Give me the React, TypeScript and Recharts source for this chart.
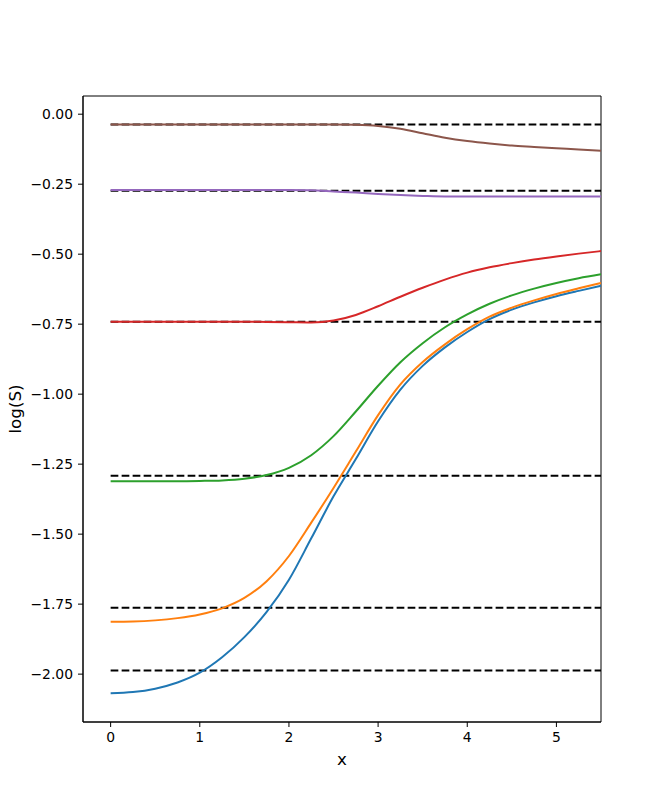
import { LineChart, Line, XAxis, YAxis, ReferenceLine, ReferenceArea } from "recharts";

// sample points along x
const xs = [0, 0.25, 0.5, 0.75, 1, 1.25, 1.5, 1.75, 2, 2.25, 2.5, 2.75, 3, 3.25, 3.5, 3.75, 4, 4.25, 4.5, 4.75, 5, 5.25, 5.5];

const blue = [-2.068, -2.064, -2.052, -2.03, -1.995, -1.94, -1.868, -1.778, -1.663, -1.515, -1.365, -1.232, -1.097, -0.984, -0.899, -0.833, -0.778, -0.732, -0.698, -0.672, -0.65, -0.631, -0.613];
const orange = [-1.813, -1.812, -1.808, -1.8, -1.787, -1.765, -1.728, -1.668, -1.578, -1.459, -1.335, -1.205, -1.075, -0.965, -0.885, -0.822, -0.768, -0.723, -0.691, -0.665, -0.642, -0.622, -0.603];
const green = [-1.311, -1.311, -1.311, -1.311, -1.31, -1.308, -1.302, -1.289, -1.263, -1.218, -1.15, -1.062, -0.97, -0.886, -0.818, -0.761, -0.715, -0.677, -0.647, -0.623, -0.603, -0.586, -0.572];
const red = [-0.741, -0.741, -0.741, -0.741, -0.741, -0.741, -0.741, -0.742, -0.743, -0.744, -0.737, -0.717, -0.686, -0.652, -0.62, -0.591, -0.566, -0.547, -0.532, -0.519, -0.508, -0.498, -0.489];
const purple = [-0.271, -0.271, -0.271, -0.271, -0.271, -0.271, -0.271, -0.271, -0.271, -0.272, -0.276, -0.28, -0.285, -0.289, -0.292, -0.294, -0.294, -0.294, -0.294, -0.294, -0.294, -0.294, -0.294];
const brown = [-0.037, -0.037, -0.037, -0.037, -0.037, -0.037, -0.037, -0.037, -0.037, -0.037, -0.037, -0.038, -0.042, -0.052, -0.068, -0.084, -0.096, -0.105, -0.112, -0.117, -0.122, -0.126, -0.131];

// dashed horizontal levels
const levels = [-0.037, -0.273, -0.741, -1.291, -1.763, -1.987];

const xTicks = [0, 1, 2, 3, 4, 5];
const yTicks = [0, -0.25, -0.5, -0.75, -1, -1.25, -1.5, -1.75, -2];

const series = [
  { key: "blue", values: blue, color: "#1f77b4" },
  { key: "orange", values: orange, color: "#ff7f0e" },
  { key: "green", values: green, color: "#2ca02c" },
  { key: "red", values: red, color: "#d62728" },
  { key: "purple", values: purple, color: "#9467bd" },
  { key: "brown", values: brown, color: "#8c564b" },
];

const data = xs.map((x, i) => {
  const row: Record<string, number> = { x };
  series.forEach((s) => { row[s.key] = s.values[i]; });
  return row;
});

const X_DOMAIN: [number, number] = [-0.31, 5.5];
const Y_DOMAIN: [number, number] = [-2.171, 0.065];
const FONT = "DejaVu Sans";
const tick = { fill: "#000", fontSize: 13.9, fontFamily: FONT };
const fmt = (v: number) => v.toFixed(2).replace("-", "\u2212");

function YLabel({ viewBox }: any) {
  const cx = 15;
  const cy = viewBox.y + viewBox.height / 2;
  return (
    <text x={cx} y={cy} transform={`rotate(-90 ${cx} ${cy})`} textAnchor="middle" dominantBaseline="central" fontSize={16.7} fontFamily={FONT} fill="#000">
      log(S)
    </text>
  );
}

export default function App() {
  return (
    <div style={{ position: "absolute", left: 0, top: 0, width: 667, height: 811, background: "#fff" }}>
      <LineChart width={667} height={811} data={data} margin={{ top: 96, right: 66, left: 0, bottom: 0 }}>
        <XAxis dataKey="x" type="number" domain={X_DOMAIN} allowDataOverflow ticks={xTicks}
          tick={tick} tickSize={5} tickMargin={5} height={89}
          axisLine={{ stroke: "#000" }} tickLine={{ stroke: "#000" }}
          label={{ value: "x", position: "insideTop", offset: 31, fontSize: 16.7, fontFamily: FONT, fill: "#000" }} />
        <YAxis type="number" domain={Y_DOMAIN} allowDataOverflow ticks={yTicks} tickFormatter={fmt}
          tick={tick} tickSize={5} tickMargin={5} width={83}
          axisLine={{ stroke: "#000" }} tickLine={{ stroke: "#000" }}
          label={<YLabel />} />
        {/* plot frame (top/right spines) */}
        <ReferenceArea x1={X_DOMAIN[0]} x2={X_DOMAIN[1]} y1={Y_DOMAIN[0]} y2={Y_DOMAIN[1]} fill="none" fillOpacity={0} stroke="#000" strokeWidth={1} ifOverflow="visible" />
        {levels.map((v) => (
          <ReferenceLine key={v} segment={[{ x: 0, y: v }, { x: 5.5, y: v }]} stroke="#000" strokeWidth={2} strokeDasharray="7.7 3.3" />
        ))}
        {series.map((s) => (
          <Line key={s.key} type="monotone" dataKey={s.key} stroke={s.color} strokeWidth={2} dot={false} isAnimationActive={false} />
        ))}
      </LineChart>
    </div>
  );
}
